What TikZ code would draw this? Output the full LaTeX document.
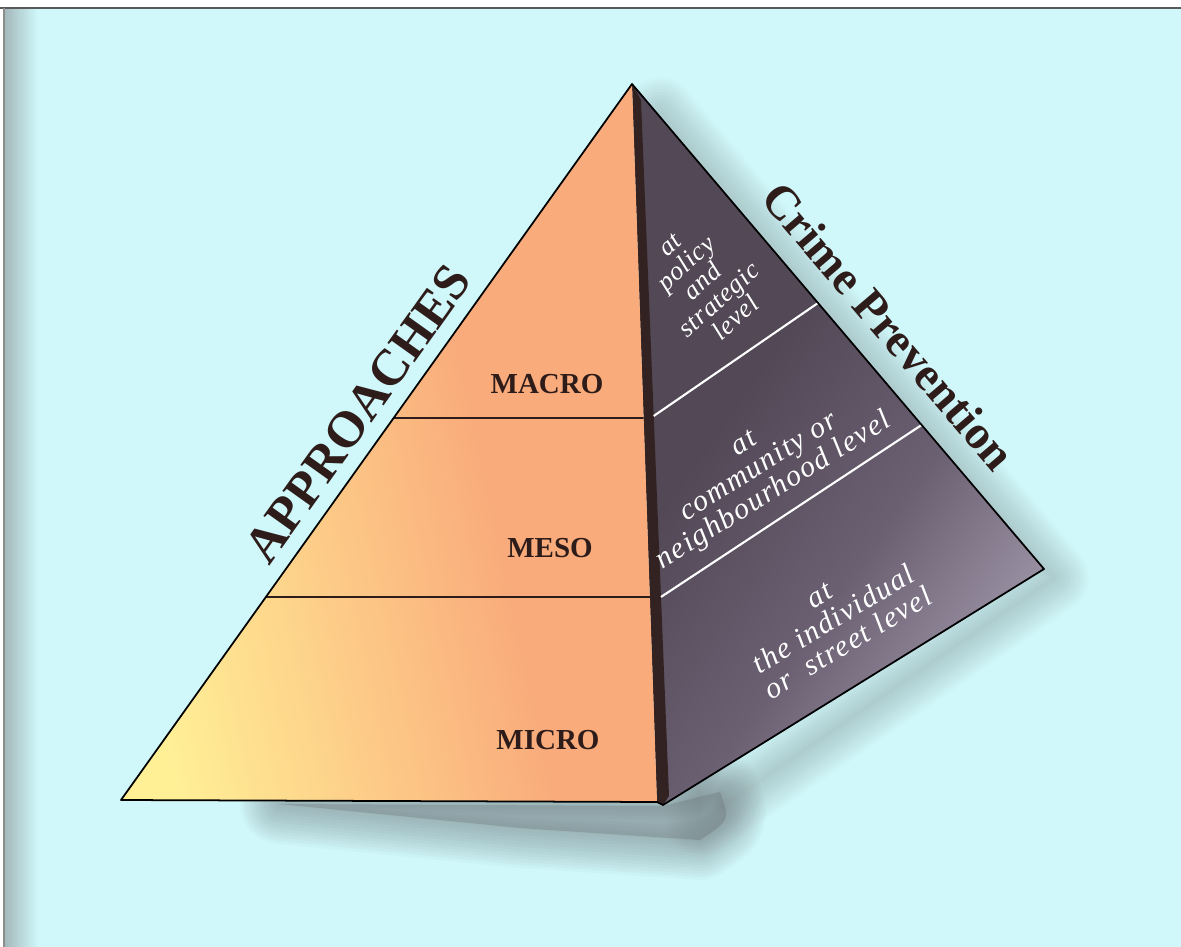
\documentclass[tikz,border=0pt]{standalone}
\usepackage{fontspec}
\setmainfont{Liberation Serif}
\newfontfamily\facefont{Liberation Serif}[LetterSpace=5]
\newfontfamily\policyfont{Liberation Serif}[LetterSpace=3]
\usetikzlibrary{calc}
\definecolor{bg}{RGB}{208,248,250}
\definecolor{lyel}{RGB}{255,240,150}
\definecolor{lmid}{RGB}{253,204,136}
\definecolor{lsal}{RGB}{249,171,123}
\definecolor{rfd}{RGB}{82,72,86}
\definecolor{rfm}{RGB}{106,96,114}
\definecolor{rfl}{RGB}{178,169,188}
\definecolor{stripcol}{RGB}{50,34,34}
\definecolor{txtdark}{RGB}{45,28,25}
\definecolor{shad}{RGB}{100,106,112}
\definecolor{halo}{RGB}{125,135,140}
\definecolor{leftsh}{RGB}{165,185,188}
\pgfdeclarehorizontalshading{lfshade}{100bp}{color(0bp)=(lyel); color(25bp)=(lyel); color(42bp)=(lmid); color(58bp)=(lsal); color(100bp)=(lsal)}
\pgfdeclarehorizontalshading{rfshade}{100bp}{color(0bp)=(rfd); color(40bp)=(rfd); color(58bp)=(rfm); color(80bp)=(rfl); color(100bp)=(rfl)}
\tikzset{
 lvl/.style={font=\bfseries\fontsize{16.5}{18}\selectfont, text=txtdark, inner sep=0pt},
 facetxt/.style={font=\facefont\itshape\fontsize{17}{16}\selectfont, text=white, inner sep=0pt, align=center},
 sidetitle/.style={font=\bfseries\fontsize{29}{32}\selectfont, text=txtdark, inner sep=0pt},
 pyredge/.style={draw=black, line width=1pt, line join=round},
 divline/.style={draw=txtdark, line width=1.1pt},
 whiteline/.style={draw=white, line width=1.2pt},
}
\begin{document}
\begin{tikzpicture}[x=0.02cm,y=-0.02cm]
\useasboundingbox (0,0) rectangle (1181,947);
\fill[white] (0,0) rectangle (1181,947);
\fill[bg] (4,9) rectangle (1181,947);
\shade[left color=leftsh, right color=bg] (5,9) rectangle (38,947);
\draw[black!65, line width=1.6pt] (0,8) -- (1181,8);
\draw[black!45, line width=1.2pt] (4,8) -- (4,947);

\coordinate (A) at (632,84);
\coordinate (L) at (121,800);
\coordinate (F) at (657,802);
\coordinate (G) at (663,805);
\coordinate (R) at (1044,569);
\coordinate (S1) at (641,100);
\coordinate (S2) at (669,796);

% soft halo around right face
\foreach \w in {70,64,...,4}
  \draw[halo, line width=\w*0.567pt, opacity=0.035, line join=round] (660,112) -- (1054,578) -- (700,822) -- cycle;
% base shadow
\foreach \w in {80,74,...,2}
  \draw[shad, line width=\w*0.567pt, opacity=0.04, line join=round] (280,804) -- (663,806) -- (720,792) .. controls (730,820) .. (700,840) -- (520,828) -- cycle;
\fill[shad, opacity=0.3] (280,804) -- (663,806) -- (720,792) .. controls (730,820) .. (700,840) -- (520,828) -- cycle;

% right face
\shade[shading=rfshade, shading angle=-35] (A) -- (R) -- (G) -- (F) -- cycle;
% dark front strip
\fill[stripcol] (A) -- (F) -- (G) -- (S2) -- (S1) -- cycle;
% left face
\shade[shading=lfshade, shading angle=12] (A) -- (L) -- (F) -- cycle;
% dividers
\draw[divline] ($(A)!0.4665!(L)$) -- ($(A)!0.4652!(F)$);
\draw[divline] ($(A)!0.7165!(L)$) -- ($(A)!0.7145!(F)$);
\draw[whiteline] ($(S1)!0.454!(S2)$) -- ($(A)!0.4515!(R)$);
\draw[whiteline] ($(S1)!0.714!(S2)$) -- ($(A)!0.703!(R)$);
% outline
\draw[pyredge] (A) -- (L) -- (F) -- (G) -- (R) -- cycle;

% left face labels
\node[lvl] (macro) at (547,384) {MACRO};
\node[lvl] (meso) at (550,548) {MESO};
\node[lvl] (micro) at (548,740) {MICRO};

% side titles
\node[sidetitle, rotate=54.5] (appr) at (358,414) {APPROACHES};
\node[sidetitle, font=\bfseries\fontsize{27}{30}\selectfont, rotate=-49.5] (crime) at (889,326) {Crime Prevention};

% right face texts
\node[facetxt, font=\policyfont\itshape\fontsize{15}{14}\selectfont, rotate=42] (policy) at (703,282) {at\\policy\\and\\strategic\\level};
\node[facetxt, rotate=32] (community) at (760,469) {at\\community or\\neighbourhood level};
\node[facetxt, font=\facefont\itshape\fontsize{17}{16}\selectfont, rotate=31] (individual) at (834,620) {at\\the individual\\or\ \ street level};
\end{tikzpicture}
\end{document}
